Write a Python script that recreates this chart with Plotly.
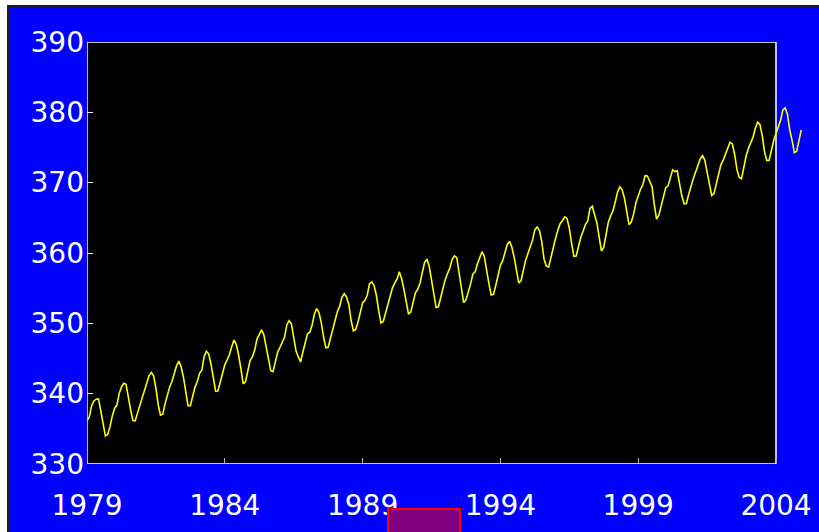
import plotly.graph_objects as go

# Monthly mean CO2 at Mauna Loa (ppm), January 1979 - December 2004
start_year = 1979
co2_ppm = [
    336.14, 336.69, 338.27, 338.96, 339.21, 339.26, 337.54, 335.75, 333.98, 334.19, 335.31, 336.81,  # 1979
    337.90, 338.34, 340.01, 340.93, 341.48, 341.33, 339.40, 337.70, 336.19, 336.15, 337.27, 338.32,  # 1980
    339.29, 340.55, 341.61, 342.53, 343.03, 342.54, 340.78, 338.44, 336.95, 337.08, 338.58, 339.88,  # 1981
    340.96, 341.73, 342.81, 343.97, 344.63, 343.79, 342.32, 340.09, 338.28, 338.29, 339.60, 340.90,  # 1982
    341.68, 342.90, 343.33, 345.25, 346.03, 345.63, 344.19, 342.27, 340.35, 340.38, 341.59, 343.05,  # 1983
    344.10, 344.79, 345.52, 346.66, 347.63, 346.98, 345.53, 343.55, 341.40, 341.67, 343.10, 344.70,  # 1984
    345.21, 346.16, 347.74, 348.34, 349.06, 348.38, 346.72, 345.02, 343.27, 343.13, 344.49, 345.88,  # 1985
    346.56, 347.28, 348.01, 349.77, 350.38, 349.93, 348.16, 346.08, 345.22, 344.51, 345.93, 347.22,  # 1986
    348.52, 348.73, 349.73, 351.31, 352.09, 351.53, 350.11, 348.08, 346.52, 346.59, 347.96, 349.16,  # 1987
    350.39, 351.64, 352.41, 353.69, 354.21, 353.72, 352.69, 350.40, 348.92, 349.13, 350.20, 351.41,  # 1988
    352.91, 353.27, 353.96, 355.64, 355.86, 355.37, 353.99, 351.81, 350.05, 350.25, 351.49, 352.85,  # 1989
    353.80, 355.04, 355.73, 356.32, 357.32, 356.34, 354.84, 353.01, 351.31, 351.62, 353.07, 354.33,  # 1990
    354.84, 355.73, 357.23, 358.66, 359.13, 358.13, 356.19, 353.85, 352.25, 352.35, 353.81, 355.12,  # 1991
    356.25, 357.11, 357.86, 359.09, 359.59, 359.33, 357.01, 354.94, 352.95, 353.32, 354.32, 355.57,  # 1992
    357.00, 357.31, 358.47, 359.27, 360.19, 359.52, 357.33, 355.64, 354.03, 354.12, 355.41, 356.91,  # 1993
    358.24, 358.92, 359.99, 361.23, 361.65, 360.81, 359.38, 357.46, 355.73, 356.08, 357.53, 358.98,  # 1994
    359.92, 360.86, 361.83, 363.30, 363.69, 363.19, 361.64, 359.12, 358.17, 357.99, 359.45, 360.68,  # 1995
    362.07, 363.24, 364.17, 364.57, 365.13, 364.92, 363.55, 361.38, 359.54, 359.58, 360.89, 362.24,  # 1996
    363.09, 364.03, 364.51, 366.35, 366.64, 365.59, 364.31, 362.25, 360.29, 360.82, 362.49, 364.38,  # 1997
    365.27, 365.98, 367.24, 368.66, 369.42, 368.99, 367.82, 365.95, 364.02, 364.40, 365.52, 367.13,  # 1998
    368.18, 369.07, 369.68, 370.99, 370.96, 370.30, 369.45, 366.90, 364.81, 365.37, 366.72, 368.10,  # 1999
    369.29, 369.54, 370.60, 371.82, 371.58, 371.70, 369.86, 368.13, 367.00, 367.03, 368.37, 369.67,  # 2000
    370.59, 371.51, 372.43, 373.37, 373.85, 373.21, 371.51, 369.61, 368.18, 368.45, 369.76, 371.24,  # 2001
    372.53, 373.20, 374.12, 375.02, 375.76, 375.52, 374.01, 371.85, 370.75, 370.55, 372.25, 373.79,  # 2002
    374.88, 375.64, 376.45, 377.73, 378.60, 378.28, 376.70, 374.38, 373.17, 373.15, 374.66, 375.99,  # 2003
    377.00, 377.87, 378.88, 380.35, 380.62, 379.69, 377.47, 376.01, 374.25, 374.46, 376.16, 377.51,  # 2004
]
decimal_years = [start_year + i / 12 for i in range(len(co2_ppm))]

x_ticks = [1979, 1984, 1989, 1994, 1999, 2004]
y_ticks = [330, 340, 350, 360, 370, 380, 390]

# page geometry (pixels)
W, H = 819, 532
L, R, T, B = 87, 16, 42, 68
frame_right_px = 776            # right edge of the black panel (year 2004)
px_per_year = (frame_right_px - L) / (x_ticks[-1] - x_ticks[0])
x_max = x_ticks[0] + (W - R - L) / px_per_year
plot_w, plot_h = W - L - R, H - T - B


def px_x(p):
    return (p - L) / plot_w


def px_y(p):
    return (H - B - p) / plot_h


fig = go.Figure()
fig.add_trace(go.Scatter(
    x=decimal_years, y=co2_ppm, mode="lines",
    line=dict(color="#ffff00", width=1.6),
    hoverinfo="x+y", showlegend=False,
))

shapes = [
    # blue page panel with dark top/left border
    dict(type="rect", xref="paper", yref="paper",
         x0=px_x(8), x1=px_x(W + 20), y0=px_y(6), y1=px_y(H + 20),
         fillcolor="#0000ff", line=dict(color="#1e1e1e", width=2), layer="below"),
    # black plotting panel
    dict(type="rect", xref="x", yref="y",
         x0=x_ticks[0], x1=x_ticks[-1], y0=y_ticks[0], y1=y_ticks[-1],
         fillcolor="#000000", line=dict(width=0), layer="below"),
    # white frame around the panel
    dict(type="rect", xref="x", yref="y",
         x0=x_ticks[0], x1=x_ticks[-1], y0=y_ticks[0], y1=y_ticks[-1],
         fillcolor="rgba(0,0,0,0)", line=dict(color="#ffffff", width=1.5), layer="below"),
    # purple box at the bottom
    dict(type="rect", xref="paper", yref="paper",
         x0=px_x(388), x1=px_x(460), y0=px_y(509), y1=px_y(H + 20),
         fillcolor="#800080", line=dict(color="#ff0000", width=2), layer="above"),
]

fig.update_layout(
    width=W, height=H,
    margin=dict(l=L, r=R, t=T, b=B, autoexpand=False),
    paper_bgcolor="#ffffff",
    plot_bgcolor="rgba(0,0,0,0)",
    font=dict(family="DejaVu Sans", size=28, color="#ffffff"),
    shapes=shapes,
    xaxis=dict(
        range=[x_ticks[0], x_max], tickvals=x_ticks, ticktext=[str(v) for v in x_ticks],
        ticks="inside", ticklen=6, tickwidth=1, tickcolor="#b4b4b4",
        showline=False, showgrid=False, zeroline=False,
        ticklabelstandoff=22,
        tickfont=dict(family="DejaVu Sans", size=28, color="#ffffff"),
    ),
    yaxis=dict(
        range=[y_ticks[0], y_ticks[-1]], tickvals=y_ticks, ticktext=[str(v) for v in y_ticks],
        ticks="inside", ticklen=6, tickwidth=1, tickcolor="#ffffff",
        showline=False, showgrid=False, zeroline=False,
        ticklabelstandoff=2,
        tickfont=dict(family="DejaVu Sans", size=28, color="#ffffff"),
    ),
)

fig.write_html("out.html")
